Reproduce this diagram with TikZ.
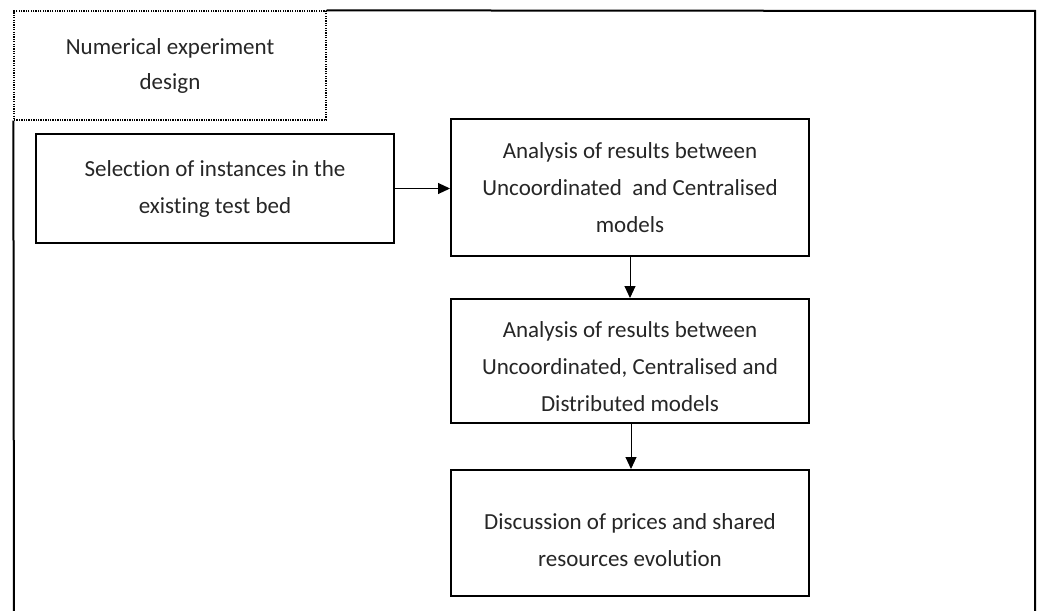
\documentclass[tikz,border=0pt]{standalone}
\usepackage{fontspec}
\setmainfont[Ligatures=NoCommon]{Carlito}
\usetikzlibrary{arrows.meta}
\begin{document}
\begin{tikzpicture}[x=1pt,y=-1pt,
  stepbox/.style={draw=black,line width=2pt,align=center,inner sep=0pt,
    font=\fontsize{23}{37}\selectfont,text=black!85},
  flow/.style={draw=black,line width=1pt,-{Triangle[length=12pt,width=11pt]}}]
\useasboundingbox (0,0) rectangle (1038,610);
\fill[white] (0,0) rectangle (1038,610);
% dotted title box
\node[draw=black,line width=1.3pt,dash pattern=on 1.3pt off 1.1pt,
  minimum width=312pt,minimum height=109pt,align=center,inner sep=0pt,
  font=\fontsize{23}{35}\selectfont,text=black!85] (title) at (170,65.5)
  {Numerical experiment\\design};
% outer frame (solid outside the dotted box)
\coordinate (fl) at (14,640);
\coordinate (fr) at (1035,640);
\draw[line width=2pt] (fl) -- (title.south west);
\draw[line width=2pt] (title.north east) -- (1035,11) -- (fr);
\node[stepbox,minimum width=358pt,minimum height=109pt] (b1) at (215,188.5)
  {Selection of instances in the\\existing test bed};
\node[stepbox,minimum width=358pt,minimum height=137pt] (b2) at (630,187.5)
  {Analysis of results between\\Uncoordinated \ and Centralised\\models};
\node[stepbox,minimum width=358pt,minimum height=124pt] (b3) at (630,361)
  {\rule{0pt}{28pt}Analysis of results between\\Uncoordinated, Centralised and\\Distributed models};
\node[stepbox,minimum width=358pt,minimum height=126pt] (b4) at (630,533)
  {\rule{0pt}{30pt}Discussion of prices and shared\\resources evolution};
\draw[flow] (b1.east) -- (b1.east -| b2.west);
\draw[flow] (b2.south) -- (b3.north);
\draw[flow] ([xshift=1pt]b3.south) -- ([xshift=1pt]b4.north);
\end{tikzpicture}
\end{document}
